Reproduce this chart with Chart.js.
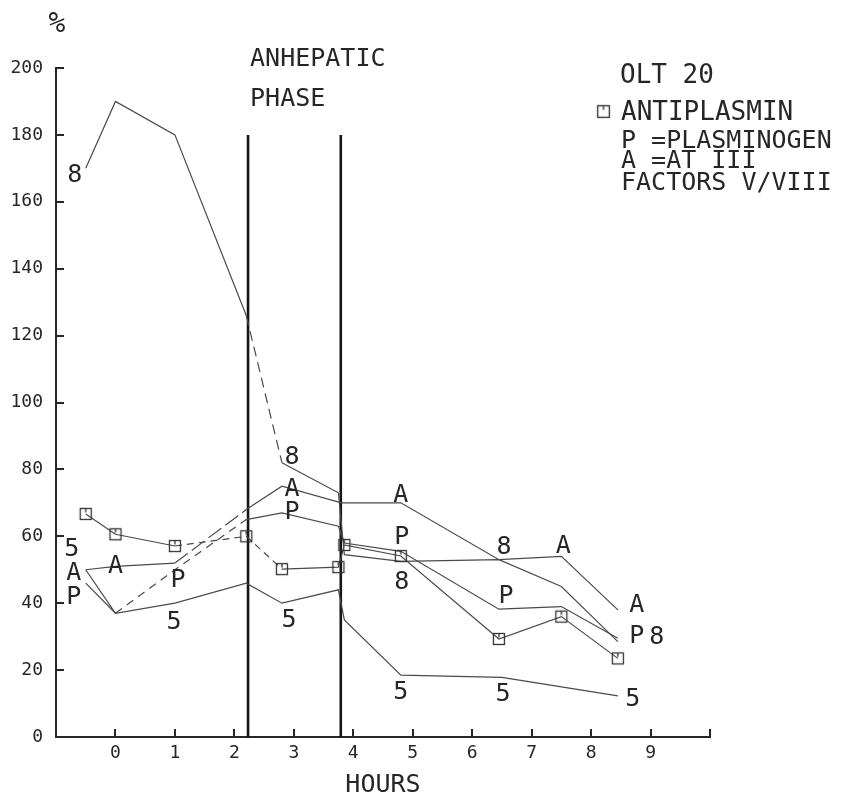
<!DOCTYPE html>
<html>
<head>
<meta charset="utf-8">
<script src="https://cdn.jsdelivr.net/npm/chart.js@4.4.1/dist/chart.umd.min.js"></script>
<style>
  html, body { margin: 0; padding: 0; background: #fff; }
  #wrap { width: 842px; height: 796px; position: relative; }
</style>
</head>
<body>
<div id="wrap"><canvas id="c"></canvas></div>
<script>
// Sampling times (hours) and measured activity (% of normal), patient OLT 20
const hours       = [-0.5, 0, 1, 2.2, 2.8, 3.75, 3.85, 4.8, 6.45, 7.5, 8.45];
const antiplasmin = [66.7, 60.6, 57.1, 60, 50.2, 50.8, 57.4, 54.1, 29.3, 36, 23.5];
const factorVIII  = [170, 190, 180, 126, 82, 73, 54.5, 52.5, 53, 45, 28.5];
const plasminogen = [46, 37, 50, 65, 67, 63, 58, 55.5, 38.2, 39, 29.5];

const at3Hours = [-0.5, 0, 1, 2.2, 2.8, 3.8, 4.8, 6.45, 7.5, 8.45];
const at3      = [50, 51, 52, 68, 75, 70, 70, 53, 54, 38];

const factorVHours = [-0.5, 0, 1, 2.2, 2.8, 3.75, 3.85, 4.8, 6.5, 8.45];
const factorV      = [50, 37, 40, 46, 40, 44, 35, 18.5, 17.8, 12.3];

// Start and end of the anhepatic phase (hours) and height of its marker lines (%)
const anhepaticPhase = [2.23, 3.79];
const phaseTop = 180;

// Axis tick labels
const xTickLabels = [0, 1, 2, 3, 4, 5, 6, 7, 8, 9];
const yTickLabels = [0, 20, 40, 60, 80, 100, 120, 140, 160, 180, 200];

// Letter symbols written beside the measured points ('' = no symbol)
const mark8 = ['8', '', '', '', '8', '', '', '8', '8', '', '8'];
const markP = ['P', '', 'P', '', 'P', '', '', 'P', 'P', '', 'P'];
const markA = ['A', 'A', '', '', 'A', '', 'A', '', 'A', 'A'];
const mark5 = ['5', '', '5', '', '5', '', '', '5', '5', '5'];

// Pixel nudges of those symbols away from their points
const off8 = [[-11, 5], null, null, null, [10, -8], null, null, [1, 19], [5, -15], null, [39, -7]];
const offP = [[-12, 12], null, [3, 8], null, [10, -3], null, null, [1, -16], [7, -15], null, [19, -4]];
const offA = [[-12, 1], [0, -2], null, null, [10, 1], null, [0, -10], null, [2, -12], [19, -7]];
const off5 = [[-14, -23], null, [-1, 17], null, [7, 15], null, null, [0, 15], [1, 15], [15, 1]];

const ink = '#262626';
const lineInk = '#4a4a4a';
const mono = '"DejaVu Sans Mono", "Liberation Mono", monospace';

// Small open square used for antiplasmin points and its legend key
function squareMark() {
  const c = document.createElement('canvas');
  c.width = 16; c.height = 16;
  const g = c.getContext('2d');
  g.strokeStyle = '#333';
  g.lineWidth = 1.3;
  g.strokeRect(2.5, 2.5, 11, 11);
  g.beginPath(); g.moveTo(8, 2.5); g.lineTo(8, 6.5); g.stroke();
  return c;
}
const squareImg = squareMark();

function pts(xs, ys) { return xs.map((x, i) => ({ x: x, y: ys[i] })); }
function dashed(indices, pattern) {
  return { borderDash: ctx => indices.includes(ctx.p0DataIndex) ? pattern : undefined };
}

const seriesLine = { borderColor: lineInk, borderWidth: 1.2, pointRadius: 0, fill: false, tension: 0 };

const datasets = [
  Object.assign({ label: 'Antiplasmin', data: pts(hours, antiplasmin), pointStyle: squareImg,
    pointRadius: 8, pointHoverRadius: 8, segment: dashed([2, 3], [7, 5]) }, { borderColor: lineInk, borderWidth: 1.2, fill: false }),
  Object.assign({ label: 'Factor VIII', data: pts(hours, factorVIII), segment: dashed([3], [10, 6]) }, seriesLine),
  Object.assign({ label: 'Plasminogen', data: pts(hours, plasminogen), segment: dashed([1, 2], [8, 6]) }, seriesLine),
  Object.assign({ label: 'AT III', data: pts(at3Hours, at3), segment: dashed([2], [16, 5]) }, seriesLine),
  Object.assign({ label: 'Factor V', data: pts(factorVHours, factorV) }, seriesLine),
  { label: 'phase start', data: [{ x: anhepaticPhase[0], y: 0 }, { x: anhepaticPhase[0], y: phaseTop }],
    borderColor: '#151515', borderWidth: 2.6, pointRadius: 0, fill: false },
  { label: 'phase end', data: [{ x: anhepaticPhase[1], y: 0 }, { x: anhepaticPhase[1], y: phaseTop }],
    borderColor: '#151515', borderWidth: 2.6, pointRadius: 0, fill: false }
];

const markerSets = [
  { ds: 1, text: mark8, off: off8 },
  { ds: 2, text: markP, off: offP },
  { ds: 3, text: markA, off: offA },
  { ds: 4, text: mark5, off: off5 }
];

// Inward tick marks on both axes
const innerTicks = {
  id: 'innerTicks',
  afterDatasetsDraw(chart) {
    const ctx = chart.ctx, xs = chart.scales.x, ys = chart.scales.y;
    ctx.save();
    ctx.strokeStyle = ink;
    ctx.lineWidth = 2;
    ctx.beginPath();
    xs.ticks.forEach(t => {
      if (t.value <= xs.min) return;
      const px = Math.round(xs.getPixelForValue(t.value));
      ctx.moveTo(px, ys.bottom); ctx.lineTo(px, ys.bottom - 8);
    });
    ys.ticks.forEach(t => {
      if (t.value <= ys.min) return;
      const py = Math.round(ys.getPixelForValue(t.value));
      ctx.moveTo(xs.left, py); ctx.lineTo(xs.left + 8, py);
    });
    ctx.stroke();
    ctx.restore();
  }
};

// Letter symbols next to the points of each series
const pointLetters = {
  id: 'pointLetters',
  afterDatasetsDraw(chart) {
    const ctx = chart.ctx;
    ctx.save();
    ctx.fillStyle = ink;
    ctx.font = '25px ' + mono;
    ctx.textAlign = 'center';
    ctx.textBaseline = 'alphabetic';
    markerSets.forEach(set => {
      const meta = chart.getDatasetMeta(set.ds);
      meta.data.forEach((el, i) => {
        const t = set.text[i];
        if (!t || !set.off[i]) return;
        ctx.fillText(t, el.x + set.off[i][0], el.y + set.off[i][1] + 9);
      });
    });
    ctx.restore();
  }
};

// Axis captions, phase caption and key
const captions = {
  id: 'captions',
  afterDraw(chart) {
    const ctx = chart.ctx, xs = chart.scales.x;
    ctx.save();
    ctx.fillStyle = ink;
    ctx.textBaseline = 'alphabetic';

    ctx.font = '28px ' + mono;
    ctx.textAlign = 'center';
    ctx.fillText('%', 57, 32);

    ctx.font = '25px ' + mono;
    ctx.fillText('HOURS', (xs.left + xs.right) / 2, 792);

    ctx.textAlign = 'left';
    const px = xs.getPixelForValue(anhepaticPhase[0]) + 2;
    ctx.fillText('ANHEPATIC', px, 66);
    ctx.fillText('PHASE', px, 106);

    ctx.font = '26px ' + mono;
    ctx.fillText('OLT 20', 620, 83);
    ctx.fillText('ANTIPLASMIN', 621, 120);
    ctx.drawImage(squareImg, 595, 103, 17, 17);
    ctx.font = '25px ' + mono;
    ctx.fillText('P =PLASMINOGEN', 621, 148);
    ctx.fillText('A =AT III', 621, 168);
    ctx.fillText('FACTORS V/VIII', 621, 190);
    ctx.restore();
  }
};

new Chart(document.getElementById('c'), {
  type: 'line',
  data: { datasets: datasets },
  options: {
    responsive: true,
    maintainAspectRatio: false,
    animation: false,
    events: [],
    layout: { padding: { top: 68, right: 132, left: 0, bottom: 0 } },
    plugins: { legend: { display: false }, tooltip: { enabled: false }, title: { display: false } },
    scales: {
      x: {
        type: 'linear', min: -1, max: 10,
        afterFit: s => { s.height = 59; },
        grid: { display: false, drawTicks: false },
        border: { display: true, color: ink, width: 2 },
        ticks: {
          stepSize: 1, autoSkip: false, maxRotation: 0, padding: 6, color: ink,
          font: { family: mono, size: 18 },
          callback: v => xTickLabels.includes(v) ? String(v) : ''
        }
      },
      y: {
        type: 'linear', min: 0, max: 200,
        afterFit: s => { s.width = 56; },
        grid: { display: false, drawTicks: false },
        border: { display: true, color: ink, width: 2 },
        ticks: {
          stepSize: 20, autoSkip: false, padding: 13, color: ink,
          font: { family: mono, size: 18 },
          callback: v => yTickLabels.includes(v) ? String(v) : ''
        }
      }
    }
  },
  plugins: [innerTicks, pointLetters, captions]
});
</script>
</body>
</html>
